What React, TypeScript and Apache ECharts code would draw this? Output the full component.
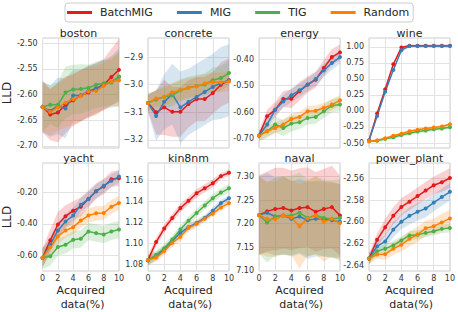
import React, { useEffect, useRef } from "react";
import * as echarts from "echarts";

const xs = [0, 1, 2, 3, 4, 5, 6, 7, 8, 9, 10];
const methods = ["BatchMIG", "MIG", "TIG", "Random"];
const colors = ["#e41a1c", "#377eb8", "#4daf4a", "#ff7f00"];
const bandFills = ["rgba(228,26,28,0.2)", "rgba(55,126,184,0.2)", "rgba(77,175,74,0.2)", "rgba(255,127,0,0.2)"];
const datasetNames = ["boston", "concrete", "energy", "wine", "yacht", "kin8nm", "naval", "power_plant"];

// boston
const bostonBatchMIG = [-2.624, -2.639, -2.635, -2.62, -2.611, -2.602, -2.596, -2.588, -2.581, -2.566, -2.552];
const bostonMIG = [-2.624, -2.632, -2.622, -2.627, -2.602, -2.602, -2.593, -2.588, -2.581, -2.575, -2.566];
const bostonTIG = [-2.624, -2.62, -2.62, -2.596, -2.59, -2.589, -2.587, -2.581, -2.578, -2.577, -2.565];
const bostonRandom = [-2.624, -2.634, -2.625, -2.616, -2.609, -2.603, -2.594, -2.593, -2.583, -2.575, -2.572];
const bostonStdBatchMIG = [0.05, 0.05, 0.058, 0.055, 0.05, 0.05, 0.05, 0.05, 0.05, 0.055, 0.06];
const bostonStdMIG = [0.05, 0.05, 0.055, 0.058, 0.05, 0.05, 0.05, 0.048, 0.048, 0.05, 0.056];
const bostonStdTIG = [0.048, 0.038, 0.045, 0.05, 0.048, 0.048, 0.045, 0.045, 0.045, 0.045, 0.05];
const bostonStdRandom = [0.048, 0.045, 0.045, 0.048, 0.05, 0.05, 0.048, 0.048, 0.045, 0.048, 0.052];

// concrete
const concreteBatchMIG = [-3.066, -3.1, -3.082, -3.098, -3.098, -3.07, -3.052, -3.052, -3.03, -3.0, -2.984];
const concreteMIG = [-3.066, -3.113, -3.062, -3.034, -3.082, -3.062, -3.044, -3.026, -3.008, -2.994, -2.984];
const concreteTIG = [-3.066, -3.054, -3.044, -3.038, -3.02, -3.011, -3.005, -2.999, -2.984, -2.976, -2.958];
const concreteRandom = [-3.066, -3.05, -3.044, -3.028, -3.02, -3.011, -3.006, -2.996, -2.99, -2.992, -2.988];
const concreteStdBatchMIG = [0.03, 0.08, 0.1, 0.09, 0.09, 0.085, 0.08, 0.08, 0.075, 0.08, 0.08];
const concreteStdMIG = [0.035, 0.09, 0.1, 0.11, 0.13, 0.12, 0.12, 0.12, 0.12, 0.13, 0.13];
const concreteStdTIG = [0.03, 0.035, 0.04, 0.04, 0.04, 0.04, 0.04, 0.04, 0.045, 0.045, 0.045];
const concreteStdRandom = [0.03, 0.03, 0.032, 0.035, 0.035, 0.035, 0.035, 0.035, 0.035, 0.035, 0.035];

// energy
const energyBatchMIG = [-0.6875, -0.615, -0.59, -0.55, -0.549, -0.521, -0.496, -0.4775, -0.434, -0.3925, -0.375];
const energyMIG = [-0.6875, -0.646, -0.59, -0.559, -0.536, -0.5175, -0.496, -0.475, -0.4425, -0.415, -0.3925];
const energyTIG = [-0.6875, -0.671, -0.646, -0.659, -0.6425, -0.6375, -0.621, -0.6175, -0.596, -0.575, -0.571];
const energyRandom = [-0.6875, -0.671, -0.659, -0.646, -0.625, -0.6175, -0.596, -0.594, -0.584, -0.571, -0.555];
const energyStdBatchMIG = [0.015, 0.025, 0.03, 0.03, 0.035, 0.035, 0.03, 0.03, 0.03, 0.03, 0.03];
const energyStdMIG = [0.015, 0.02, 0.02, 0.025, 0.025, 0.025, 0.025, 0.025, 0.025, 0.025, 0.025];
const energyStdTIG = [0.02, 0.025, 0.03, 0.03, 0.03, 0.025, 0.025, 0.025, 0.025, 0.025, 0.025];
const energyStdRandom = [0.02, 0.02, 0.02, 0.02, 0.02, 0.02, 0.02, 0.02, 0.02, 0.02, 0.02];

// wine
const wineBatchMIG = [-0.46, -0.04, 0.34, 0.73, 0.99, 1.02, 1.02, 1.02, 1.02, 1.02, 1.02];
const wineMIG = [-0.46, -0.08, 0.3, 0.64, 0.95, 1.015, 1.015, 1.015, 1.015, 1.015, 1.015];
const wineTIG = [-0.474, -0.464, -0.433, -0.41, -0.376, -0.346, -0.32, -0.305, -0.284, -0.274, -0.253];
const wineRandom = [-0.474, -0.459, -0.428, -0.387, -0.356, -0.315, -0.294, -0.274, -0.258, -0.243, -0.207];
const wineStdBatchMIG = [0.015, 0.02, 0.02, 0.02, 0.02, 0.02, 0.02, 0.02, 0.02, 0.02, 0.02];
const wineStdMIG = [0.015, 0.02, 0.02, 0.02, 0.02, 0.02, 0.02, 0.02, 0.02, 0.02, 0.02];
const wineStdTIG = [0.02, 0.025, 0.03, 0.03, 0.03, 0.03, 0.03, 0.03, 0.03, 0.03, 0.03];
const wineStdRandom = [0.02, 0.02, 0.022, 0.025, 0.025, 0.025, 0.025, 0.025, 0.025, 0.025, 0.025];

// yacht
const yachtBatchMIG = [-0.615, -0.505, -0.404, -0.352, -0.316, -0.291, -0.242, -0.192, -0.162, -0.116, -0.109];
const yachtMIG = [-0.615, -0.533, -0.442, -0.385, -0.347, -0.278, -0.242, -0.192, -0.158, -0.126, -0.099];
const yachtTIG = [-0.615, -0.606, -0.547, -0.533, -0.501, -0.495, -0.448, -0.459, -0.467, -0.448, -0.436];
const yachtRandom = [-0.615, -0.547, -0.48, -0.442, -0.421, -0.379, -0.347, -0.333, -0.331, -0.291, -0.267];
const yachtStdBatchMIG = [0.06, 0.07, 0.08, 0.07, 0.06, 0.06, 0.055, 0.05, 0.05, 0.05, 0.05];
const yachtStdMIG = [0.06, 0.05, 0.05, 0.05, 0.05, 0.045, 0.045, 0.045, 0.04, 0.04, 0.04];
const yachtStdTIG = [0.07, 0.06, 0.055, 0.055, 0.055, 0.055, 0.055, 0.055, 0.055, 0.055, 0.055];
const yachtStdRandom = [0.06, 0.05, 0.05, 0.045, 0.045, 0.045, 0.045, 0.045, 0.045, 0.045, 0.045];

// kin8nm
const kin8nmBatchMIG = [1.0838, 1.1012, 1.1141, 1.1243, 1.1338, 1.1407, 1.148, 1.1527, 1.1575, 1.1644, 1.1676];
const kin8nmMIG = [1.0838, 1.0879, 1.0942, 1.1021, 1.11, 1.1154, 1.1195, 1.1243, 1.1312, 1.1385, 1.1432];
const kin8nmTIG = [1.0838, 1.0888, 1.0952, 1.1037, 1.1132, 1.1217, 1.129, 1.1363, 1.1432, 1.1486, 1.1527];
const kin8nmRandom = [1.0838, 1.0863, 1.0926, 1.1005, 1.1062, 1.1148, 1.1186, 1.1236, 1.1284, 1.1344, 1.1385];
const kin8nmStdBatchMIG = [0.005, 0.004, 0.004, 0.004, 0.004, 0.004, 0.004, 0.004, 0.004, 0.003, 0.003];
const kin8nmStdMIG = [0.005, 0.004, 0.003, 0.003, 0.003, 0.003, 0.003, 0.003, 0.003, 0.003, 0.003];
const kin8nmStdTIG = [0.005, 0.004, 0.004, 0.004, 0.004, 0.004, 0.004, 0.004, 0.004, 0.004, 0.004];
const kin8nmStdRandom = [0.005, 0.004, 0.004, 0.004, 0.004, 0.004, 0.003, 0.003, 0.003, 0.003, 0.003];

// naval
const navalBatchMIG = [7.218, 7.226, 7.231, 7.233, 7.228, 7.233, 7.235, 7.225, 7.231, 7.235, 7.217];
const navalMIG = [7.218, 7.223, 7.215, 7.217, 7.21, 7.215, 7.207, 7.21, 7.21, 7.207, 7.204];
const navalTIG = [7.218, 7.202, 7.215, 7.217, 7.217, 7.223, 7.212, 7.218, 7.212, 7.21, 7.212];
const navalRandom = [7.218, 7.21, 7.209, 7.217, 7.213, 7.194, 7.211, 7.217, 7.204, 7.21, 7.201];
const navalStdBatchMIG = [0.085, 0.085, 0.088, 0.086, 0.085, 0.085, 0.085, 0.085, 0.085, 0.088, 0.085];
const navalStdMIG = [0.083, 0.085, 0.083, 0.083, 0.08, 0.08, 0.082, 0.08, 0.08, 0.08, 0.08];
const navalStdTIG = [0.083, 0.085, 0.083, 0.083, 0.085, 0.085, 0.082, 0.083, 0.082, 0.082, 0.083];
const navalStdRandom = [0.083, 0.08, 0.08, 0.083, 0.08, 0.09, 0.08, 0.083, 0.085, 0.08, 0.082];

// power_plant
const powerBatchMIG = [-2.634, -2.6166, -2.605, -2.5944, -2.5862, -2.5813, -2.5761, -2.571, -2.5661, -2.5633, -2.5594];
const powerMIG = [-2.634, -2.6227, -2.6181, -2.6072, -2.5999, -2.5944, -2.5907, -2.5877, -2.5822, -2.577, -2.5722];
const powerTIG = [-2.634, -2.6272, -2.6248, -2.6218, -2.6172, -2.6126, -2.612, -2.6102, -2.6087, -2.6065, -2.6056];
const powerRandom = [-2.634, -2.6303, -2.63, -2.6248, -2.6212, -2.6157, -2.6117, -2.6059, -2.6041, -2.6005, -2.5968];
const powerStdBatchMIG = [0.005, 0.006, 0.008, 0.008, 0.008, 0.008, 0.008, 0.008, 0.008, 0.009, 0.009];
const powerStdMIG = [0.005, 0.005, 0.006, 0.007, 0.007, 0.008, 0.008, 0.008, 0.008, 0.008, 0.008];
const powerStdTIG = [0.005, 0.004, 0.004, 0.004, 0.004, 0.004, 0.004, 0.004, 0.004, 0.004, 0.004];
const powerStdRandom = [0.005, 0.004, 0.005, 0.006, 0.006, 0.007, 0.007, 0.007, 0.007, 0.008, 0.008];

// y tick labels per panel
const bostonTicks = [-2.7, -2.65, -2.6, -2.55, -2.5];
const concreteTicks = [-3.2, -3.1, -3.0, -2.9];
const energyTicks = [-0.7, -0.6, -0.5, -0.4];
const wineTicks = [-0.5, -0.25, 0, 0.25, 0.5, 0.75, 1.0];
const yachtTicks = [-0.6, -0.4, -0.2];
const kin8nmTicks = [1.08, 1.1, 1.12, 1.14, 1.16];
const navalTicks = [7.1, 7.15, 7.2, 7.25, 7.3];
const powerTicks = [-2.64, -2.62, -2.6, -2.58, -2.56];

const means = [
  [bostonBatchMIG, bostonMIG, bostonTIG, bostonRandom],
  [concreteBatchMIG, concreteMIG, concreteTIG, concreteRandom],
  [energyBatchMIG, energyMIG, energyTIG, energyRandom],
  [wineBatchMIG, wineMIG, wineTIG, wineRandom],
  [yachtBatchMIG, yachtMIG, yachtTIG, yachtRandom],
  [kin8nmBatchMIG, kin8nmMIG, kin8nmTIG, kin8nmRandom],
  [navalBatchMIG, navalMIG, navalTIG, navalRandom],
  [powerBatchMIG, powerMIG, powerTIG, powerRandom],
];
const stds = [
  [bostonStdBatchMIG, bostonStdMIG, bostonStdTIG, bostonStdRandom],
  [concreteStdBatchMIG, concreteStdMIG, concreteStdTIG, concreteStdRandom],
  [energyStdBatchMIG, energyStdMIG, energyStdTIG, energyStdRandom],
  [wineStdBatchMIG, wineStdMIG, wineStdTIG, wineStdRandom],
  [yachtStdBatchMIG, yachtStdMIG, yachtStdTIG, yachtStdRandom],
  [kin8nmStdBatchMIG, kin8nmStdMIG, kin8nmStdTIG, kin8nmStdRandom],
  [navalStdBatchMIG, navalStdMIG, navalStdTIG, navalStdRandom],
  [powerStdBatchMIG, powerStdMIG, powerStdTIG, powerStdRandom],
];
const yTicks = [bostonTicks, concreteTicks, energyTicks, wineTicks, yachtTicks, kin8nmTicks, navalTicks, powerTicks];
const yRanges = [
  [-2.704, -2.49],
  [-3.229, -2.831],
  [-0.734, -0.321],
  [-0.578, 1.14],
  [-0.7, -0.0125],
  [1.0734, 1.177],
  [7.099, 7.329],
  [-2.6455, -2.5455],
];
const yDecimals = [2, 1, 2, 2, 2, 2, 2, 2];

const FONT = "DejaVu Sans";
const colLefts = [38, 148, 259, 369];
const rowTops = [38, 163];
const PW = 81;
const PH = 110;

export default function App() {
  const ref = useRef<HTMLDivElement>(null);
  useEffect(() => {
    if (!ref.current) return;
    const chart = echarts.init(ref.current, undefined, { renderer: "svg" });
    const grid: any[] = [];
    const xAxis: any[] = [];
    const yAxis: any[] = [];
    const series: any[] = [];
    const graphic: any[] = [];

    datasetNames.forEach((name, i) => {
      const row = Math.floor(i / 4);
      const col = i % 4;
      grid.push({
        left: colLefts[col],
        top: rowTops[row],
        width: PW,
        height: PH,
        show: true,
        backgroundColor: "#ffffff",
        borderColor: "#cccccc",
        borderWidth: 1,
      });
      xAxis.push({
        gridIndex: i,
        type: "value",
        min: 0,
        max: 10,
        interval: 2,
        axisLine: { show: false },
        axisTick: { show: false },
        axisLabel: {
          show: row === 1,
          fontSize: 8,
          color: "#333333",
          margin: 3,
          fontFamily: FONT,
        },
        splitLine: { show: true, lineStyle: { color: "#e2e2e2", width: 1 } },
        name: row === 1 ? "Acquired\n data(%)" : "",
        nameLocation: "middle",
        nameGap: 12,
        nameTextStyle: { fontSize: 11, color: "#262626", fontFamily: FONT, lineHeight: 14 },
      });
      const dec = yDecimals[i];
      const concreteStyle = name === "concrete";
      yAxis.push({
        gridIndex: i,
        type: "value",
        min: yRanges[i][0],
        max: yRanges[i][1],
        axisLine: { show: false },
        axisTick: { show: false, customValues: yTicks[i] },
        axisLabel: {
          customValues: yTicks[i],
          fontSize: 8,
          color: "#333333",
          margin: 5,
          fontFamily: FONT,
          formatter: (v: number) => {
            const s = Math.abs(v).toFixed(dec);
            if (v < -1e-9) return (concreteStyle ? "\u2212" : "-") + s;
            return s;
          },
        },
        splitLine: { show: true, lineStyle: { color: "#e2e2e2", width: 1 } },
        name: col === 0 ? "LLD" : "",
        nameLocation: "middle",
        nameGap: 20,
        nameTextStyle: { fontSize: 12, color: "#262626", fontFamily: FONT },
      });
      graphic.push({
        type: "text",
        x: colLefts[col] + PW / 2,
        y: rowTops[row] - 5,
        style: {
          text: name,
          fontSize: 11,
          fontFamily: FONT,
          fill: "#262626",
          textAlign: "center",
          textVerticalAlign: "middle",
          align: "center",
          verticalAlign: "middle",
        },
      });

      // shaded std bands, drawn through the axes' coordinate system
      methods.forEach((m, k) => {
        const mean = means[i][k];
        const sd = stds[i][k];
        series.push({
          type: "custom",
          name: `${m} band`,
          xAxisIndex: i,
          yAxisIndex: i,
          clip: true,
          silent: true,
          z: 1,
          data: xs.map((x, j) => [x, mean[j] - sd[j], mean[j] + sd[j]]),
          encode: { x: 0, y: [1, 2] },
          renderItem: (params: any, api: any) => {
            if (params.dataIndex !== 0) return null;
            const upper = xs.map((x, j) => api.coord([x, mean[j] + sd[j]]));
            const lower = xs.map((x, j) => api.coord([x, mean[j] - sd[j]])).reverse();
            return {
              type: "polygon",
              shape: { points: upper.concat(lower) },
              style: { fill: bandFills[k], stroke: "none" },
            };
          },
        });
      });
      methods.forEach((m, k) => {
        const mean = means[i][k];
        series.push({
          type: "line",
          name: m,
          xAxisIndex: i,
          yAxisIndex: i,
          data: xs.map((x, j) => [x, mean[j]]),
          symbol: "circle",
          symbolSize: 4,
          showSymbol: true,
          showAllSymbol: true,
          lineStyle: { width: 1.5, color: colors[k] },
          itemStyle: { color: colors[k] },
          z: 3,
        });
      });
    });

    chart.setOption({
      animation: false,
      textStyle: { fontFamily: FONT },
      legend: {
        data: methods,
        left: 65,
        top: 3,
        icon: "rect",
        itemWidth: 25,
        itemHeight: 3,
        itemGap: 24,
        padding: [4, 4, 4, 2],
        borderColor: "#cccccc",
        borderWidth: 1,
        borderRadius: 3,
        backgroundColor: "#ffffff",
        textStyle: { fontSize: 11, color: "#262626", fontFamily: FONT, padding: [0, 0, 0, 3] },
      },
      grid,
      xAxis,
      yAxis,
      series,
      graphic,
    });
    return () => chart.dispose();
  }, []);
  return (
    <div
      ref={ref}
      style={{ position: "absolute", left: 0, top: 0, width: 458, height: 312, background: "#fff" }}
    />
  );
}
